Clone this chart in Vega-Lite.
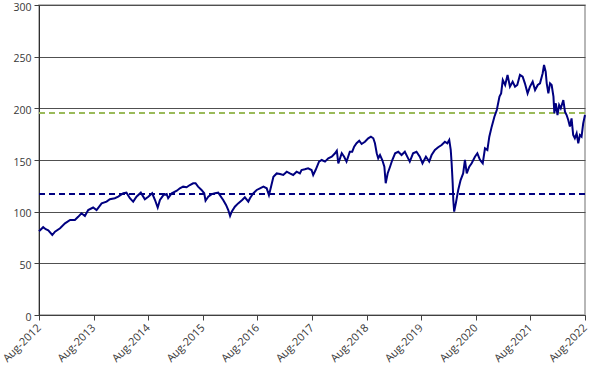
{
  "$schema": "https://vega.github.io/schema/vega-lite/v6.json",
  "width": 546,
  "height": 310,
  "autosize": {"type": "none"},
  "padding": {"left": 39, "top": 5, "right": 6, "bottom": 54},
  "background": "white",
  "config": {
    "view": {"stroke": "#a0a0a0", "strokeWidth": 1.5},
    "font": "Open Sans",
    "axis": {"labelFont": "Open Sans", "labelFontSize": 11, "labelColor": "#383838", "domainColor": "#404040", "tickColor": "#404040", "tickSize": 5}
  },
  "data": {"values": [
    {"date": "2012-08-01", "value": 81},
    {"date": "2012-08-29", "value": 85},
    {"date": "2012-09-15", "value": 83},
    {"date": "2012-10-02", "value": 82},
    {"date": "2012-10-29", "value": 77.4},
    {"date": "2012-11-16", "value": 80.6},
    {"date": "2012-12-20", "value": 84},
    {"date": "2013-01-22", "value": 88.7},
    {"date": "2013-02-25", "value": 92},
    {"date": "2013-03-29", "value": 92},
    {"date": "2013-04-20", "value": 95},
    {"date": "2013-05-12", "value": 98.4},
    {"date": "2013-06-04", "value": 95.8},
    {"date": "2013-06-26", "value": 101.6},
    {"date": "2013-07-29", "value": 104},
    {"date": "2013-08-21", "value": 101.6},
    {"date": "2013-09-24", "value": 108},
    {"date": "2013-10-27", "value": 109.7},
    {"date": "2013-11-18", "value": 112},
    {"date": "2013-12-21", "value": 113},
    {"date": "2014-01-13", "value": 114.5},
    {"date": "2014-02-16", "value": 117.8},
    {"date": "2014-03-09", "value": 118.4},
    {"date": "2014-04-01", "value": 113},
    {"date": "2014-04-23", "value": 109.7},
    {"date": "2014-05-15", "value": 114.5},
    {"date": "2014-06-13", "value": 118.4},
    {"date": "2014-07-10", "value": 112},
    {"date": "2014-08-02", "value": 114.5},
    {"date": "2014-08-28", "value": 117.8},
    {"date": "2014-09-16", "value": 111.3},
    {"date": "2014-10-04", "value": 104},
    {"date": "2014-10-19", "value": 111.3},
    {"date": "2014-11-11", "value": 116},
    {"date": "2014-12-03", "value": 117},
    {"date": "2014-12-13", "value": 113},
    {"date": "2015-01-06", "value": 117.8},
    {"date": "2015-02-09", "value": 120.3},
    {"date": "2015-03-01", "value": 122.6},
    {"date": "2015-03-23", "value": 124.2},
    {"date": "2015-04-15", "value": 123.6},
    {"date": "2015-05-07", "value": 125.8},
    {"date": "2015-05-29", "value": 127.5},
    {"date": "2015-06-14", "value": 127.5},
    {"date": "2015-07-01", "value": 124.2},
    {"date": "2015-07-24", "value": 121},
    {"date": "2015-08-11", "value": 117.8},
    {"date": "2015-08-20", "value": 110.6},
    {"date": "2015-09-07", "value": 114.5},
    {"date": "2015-09-30", "value": 117},
    {"date": "2015-10-22", "value": 117.8},
    {"date": "2015-11-13", "value": 118.4},
    {"date": "2015-12-01", "value": 114.5},
    {"date": "2015-12-16", "value": 111.3},
    {"date": "2016-01-04", "value": 106.5},
    {"date": "2016-01-19", "value": 101.6},
    {"date": "2016-01-31", "value": 95.8},
    {"date": "2016-02-11", "value": 100},
    {"date": "2016-03-03", "value": 104.8},
    {"date": "2016-03-25", "value": 108},
    {"date": "2016-04-21", "value": 111.3},
    {"date": "2016-05-09", "value": 113.9},
    {"date": "2016-06-01", "value": 109.7},
    {"date": "2016-06-12", "value": 113},
    {"date": "2016-07-04", "value": 117.8},
    {"date": "2016-07-27", "value": 121},
    {"date": "2016-08-18", "value": 122.6},
    {"date": "2016-09-10", "value": 124.2},
    {"date": "2016-10-02", "value": 122.6},
    {"date": "2016-10-17", "value": 116},
    {"date": "2016-10-31", "value": 124.2},
    {"date": "2016-11-16", "value": 133.8},
    {"date": "2016-12-08", "value": 137},
    {"date": "2016-12-30", "value": 136.5},
    {"date": "2017-01-21", "value": 135.5},
    {"date": "2017-02-13", "value": 138.7},
    {"date": "2017-03-06", "value": 137},
    {"date": "2017-03-28", "value": 135.5},
    {"date": "2017-04-20", "value": 138.7},
    {"date": "2017-05-12", "value": 137},
    {"date": "2017-05-23", "value": 140.3},
    {"date": "2017-06-14", "value": 141},
    {"date": "2017-07-06", "value": 142},
    {"date": "2017-07-29", "value": 140.3},
    {"date": "2017-08-09", "value": 135.5},
    {"date": "2017-08-25", "value": 140.3},
    {"date": "2017-09-17", "value": 148.4},
    {"date": "2017-10-05", "value": 150},
    {"date": "2017-10-27", "value": 148.4},
    {"date": "2017-11-18", "value": 151.6},
    {"date": "2017-12-11", "value": 153.2},
    {"date": "2018-01-02", "value": 156.5},
    {"date": "2018-01-14", "value": 159},
    {"date": "2018-01-24", "value": 146.8},
    {"date": "2018-02-16", "value": 156.5},
    {"date": "2018-03-04", "value": 153.2},
    {"date": "2018-03-20", "value": 148.4},
    {"date": "2018-04-11", "value": 158},
    {"date": "2018-04-27", "value": 158},
    {"date": "2018-05-10", "value": 162.9},
    {"date": "2018-05-26", "value": 166.2},
    {"date": "2018-06-13", "value": 168.7},
    {"date": "2018-06-29", "value": 165.5},
    {"date": "2018-07-21", "value": 167.7},
    {"date": "2018-08-12", "value": 171},
    {"date": "2018-08-30", "value": 172.6},
    {"date": "2018-09-15", "value": 171},
    {"date": "2018-09-26", "value": 166.2},
    {"date": "2018-10-08", "value": 156.5},
    {"date": "2018-10-18", "value": 151.6},
    {"date": "2018-10-30", "value": 154.8},
    {"date": "2018-11-14", "value": 150},
    {"date": "2018-11-28", "value": 143.5},
    {"date": "2018-12-07", "value": 127.5},
    {"date": "2018-12-20", "value": 137},
    {"date": "2019-01-05", "value": 143.5},
    {"date": "2019-01-20", "value": 150},
    {"date": "2019-02-08", "value": 156.5},
    {"date": "2019-03-01", "value": 158},
    {"date": "2019-03-23", "value": 154.8},
    {"date": "2019-04-14", "value": 158},
    {"date": "2019-05-06", "value": 151.6},
    {"date": "2019-05-17", "value": 148.4},
    {"date": "2019-06-08", "value": 156.5},
    {"date": "2019-07-01", "value": 158},
    {"date": "2019-07-23", "value": 153.2},
    {"date": "2019-08-10", "value": 146.8},
    {"date": "2019-09-02", "value": 153.2},
    {"date": "2019-09-24", "value": 148.4},
    {"date": "2019-10-10", "value": 154.8},
    {"date": "2019-11-01", "value": 159.7},
    {"date": "2019-11-23", "value": 162.3},
    {"date": "2019-12-16", "value": 164.5},
    {"date": "2020-01-07", "value": 167.7},
    {"date": "2020-01-23", "value": 166.2},
    {"date": "2020-02-05", "value": 169.4},
    {"date": "2020-02-15", "value": 159.7},
    {"date": "2020-02-21", "value": 146.8},
    {"date": "2020-02-28", "value": 127.5},
    {"date": "2020-03-03", "value": 111.3},
    {"date": "2020-03-09", "value": 100},
    {"date": "2020-03-20", "value": 108},
    {"date": "2020-04-05", "value": 121},
    {"date": "2020-04-21", "value": 130.6},
    {"date": "2020-05-08", "value": 137},
    {"date": "2020-05-20", "value": 150},
    {"date": "2020-06-01", "value": 137},
    {"date": "2020-06-18", "value": 143.5},
    {"date": "2020-07-04", "value": 146.8},
    {"date": "2020-07-26", "value": 153.2},
    {"date": "2020-08-11", "value": 156.5},
    {"date": "2020-08-29", "value": 150},
    {"date": "2020-09-16", "value": 146.8},
    {"date": "2020-10-01", "value": 161.3},
    {"date": "2020-10-17", "value": 159.7},
    {"date": "2020-10-30", "value": 172.6},
    {"date": "2020-11-15", "value": 182.3},
    {"date": "2020-12-03", "value": 191.9},
    {"date": "2020-12-19", "value": 198.4},
    {"date": "2021-01-06", "value": 211.3},
    {"date": "2021-01-17", "value": 214.5},
    {"date": "2021-01-28", "value": 227.4},
    {"date": "2021-02-13", "value": 222.6},
    {"date": "2021-03-01", "value": 232.3},
    {"date": "2021-03-17", "value": 221},
    {"date": "2021-04-04", "value": 225.8},
    {"date": "2021-04-20", "value": 221},
    {"date": "2021-05-05", "value": 222.6},
    {"date": "2021-05-23", "value": 232.3},
    {"date": "2021-06-10", "value": 230.6},
    {"date": "2021-06-25", "value": 224.2},
    {"date": "2021-07-13", "value": 214.5},
    {"date": "2021-07-29", "value": 221},
    {"date": "2021-08-16", "value": 225.8},
    {"date": "2021-09-01", "value": 217.7},
    {"date": "2021-09-19", "value": 222.6},
    {"date": "2021-10-04", "value": 224.2},
    {"date": "2021-10-22", "value": 234},
    {"date": "2021-10-31", "value": 241.9},
    {"date": "2021-11-11", "value": 235.5},
    {"date": "2021-11-18", "value": 224.2},
    {"date": "2021-11-29", "value": 214.5},
    {"date": "2021-12-10", "value": 224.2},
    {"date": "2021-12-21", "value": 222.6},
    {"date": "2022-01-02", "value": 211.3},
    {"date": "2022-01-08", "value": 195.2},
    {"date": "2022-01-18", "value": 204.9},
    {"date": "2022-01-29", "value": 193.5},
    {"date": "2022-02-09", "value": 203.2},
    {"date": "2022-02-20", "value": 200},
    {"date": "2022-03-09", "value": 208},
    {"date": "2022-03-20", "value": 196.8},
    {"date": "2022-03-31", "value": 193.5},
    {"date": "2022-04-11", "value": 188.7},
    {"date": "2022-04-22", "value": 182.3},
    {"date": "2022-05-03", "value": 190.3},
    {"date": "2022-05-14", "value": 174.2},
    {"date": "2022-05-25", "value": 171},
    {"date": "2022-06-06", "value": 175.8},
    {"date": "2022-06-17", "value": 166.2},
    {"date": "2022-06-28", "value": 174.2},
    {"date": "2022-07-09", "value": 172.6},
    {"date": "2022-07-20", "value": 185.5},
    {"date": "2022-08-01", "value": 193.5}
  ]},
  "layer": [
    {
      "mark": {"type": "rule", "color": "#9bbb59", "strokeWidth": 1.5, "strokeDash": [6, 4]},
      "encoding": {"y": {"datum": 195.5, "type": "quantitative"}}
    },
    {
      "mark": {"type": "rule", "color": "#000080", "strokeWidth": 1.5, "strokeDash": [6, 4]},
      "encoding": {"y": {"datum": 117, "type": "quantitative"}}
    },
    {
      "mark": {"type": "line", "color": "#000080", "strokeWidth": 2, "interpolate": "linear"},
      "encoding": {
        "x": {
          "field": "date",
          "type": "temporal",
          "scale": {"type": "utc", "domain": [{"year": 2012, "month": 8, "date": 1, "utc": true}, {"year": 2022, "month": 8, "date": 1, "utc": true}]},
          "axis": {
            "title": null,
            "format": "%b-%Y",
            "grid": false,
            "labelAngle": -45,
            "labelAlign": "right",
            "labelBaseline": "middle",
            "labelPadding": 6,
            "labelOverlap": false,
            "labelFlush": false,
            "values": [
              {"year": 2012, "month": 8, "date": 1, "utc": true},
              {"year": 2013, "month": 8, "date": 1, "utc": true},
              {"year": 2014, "month": 8, "date": 1, "utc": true},
              {"year": 2015, "month": 8, "date": 1, "utc": true},
              {"year": 2016, "month": 8, "date": 1, "utc": true},
              {"year": 2017, "month": 8, "date": 1, "utc": true},
              {"year": 2018, "month": 8, "date": 1, "utc": true},
              {"year": 2019, "month": 8, "date": 1, "utc": true},
              {"year": 2020, "month": 8, "date": 1, "utc": true},
              {"year": 2021, "month": 8, "date": 1, "utc": true},
              {"year": 2022, "month": 8, "date": 1, "utc": true}
            ]
          }
        },
        "y": {
          "field": "value",
          "type": "quantitative",
          "scale": {"domain": [0, 300], "nice": false},
          "axis": {
            "title": null,
            "values": [0, 50, 100, 150, 200, 250, 300],
            "grid": true,
            "gridColor": "#505050",
            "gridWidth": 1,
            "domainColor": "#303030",
            "labelPadding": 3,
            "labelFontSize": 10.5,
            "labelOffset": 2
          }
        }
      }
    }
  ]
}
